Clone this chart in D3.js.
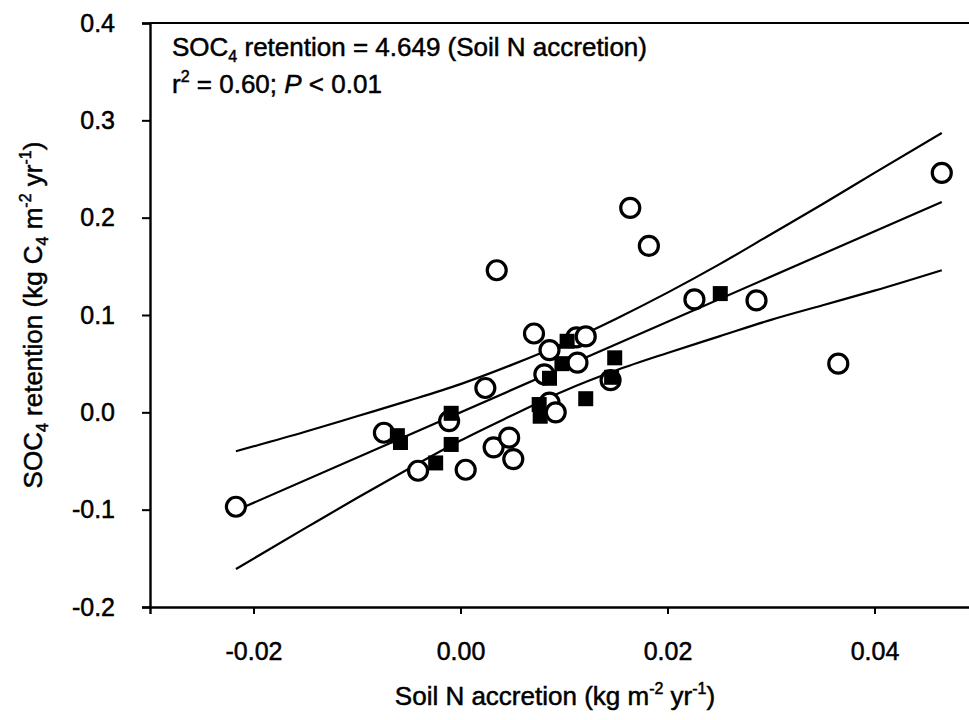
<!DOCTYPE html>
<html>
<head>
<meta charset="utf-8">
<script src="https://cdn.jsdelivr.net/npm/d3@7"></script>
<style>
  body { margin: 0; background: #fff; }
  svg { display: block; font-family: "Liberation Sans", Arial, sans-serif; }
  svg text { fill: #000; stroke: #000; stroke-width: 0.5px; }
</style>
</head>
<body>
<svg id="chart" width="969" height="720"></svg>
<script>
// open circles
const circleX = [-0.0217, -0.0074, -0.0011, -0.0041, 0.0005, 0.0024, 0.0032, 0.0047, 0.0051,
                 0.0035, 0.0071, 0.0086, 0.0081, 0.0086, 0.0092, 0.0113, 0.0112, 0.0121,
                 0.0145, 0.0164, 0.0182, 0.0226, 0.0286, 0.0365, 0.0465];
const circleY = [-0.097, -0.021, -0.009, -0.060, -0.059, 0.025, -0.036, -0.026, -0.048,
                 0.146, 0.081, 0.064, 0.039, 0.010, 0.000, 0.051, 0.077, 0.078,
                 0.033, 0.210, 0.171, 0.116, 0.115, 0.050, 0.246];
// filled squares
const squareX = [-0.0061, -0.0058, -0.0009, -0.0009, -0.0024, 0.0076, 0.0077, 0.0086, 0.0098,
                 0.0103, 0.0121, 0.0149, 0.0146, 0.0251];
const squareY = [-0.024, -0.031, -0.001, -0.033, -0.052, 0.008, -0.004, 0.035, 0.050,
                 0.073, 0.014, 0.056, 0.036, 0.122];

// regression line and 95% band
const slope = 4.649;
const fitRange = [-0.0217, 0.0465];
const bandX =     [-0.0217, -0.015, -0.010, -0.005, 0.000, 0.005, 0.010, 0.015, 0.020, 0.025, 0.030, 0.035, 0.040, 0.0465];
const bandUpper = [-0.040, -0.020, -0.004, 0.012, 0.029, 0.049, 0.071, 0.096, 0.123, 0.152, 0.183, 0.214, 0.246, 0.287];
const bandLower = [-0.161, -0.119, -0.088, -0.058, -0.029, -0.003, 0.022, 0.043, 0.061, 0.078, 0.095, 0.110, 0.125, 0.146];

const xTicks = [-0.02, 0, 0.02, 0.04];
const xTickLabels = ["-0.02", "0.00", "0.02", "0.04"];
const yTicks = [0.4, 0.3, 0.2, 0.1, 0, -0.1, -0.2];
const yTickLabels = ["0.4", "0.3", "0.2", "0.1", "0.0", "-0.1", "-0.2"];

const svg = d3.select("#chart");

const x = d3.scaleLinear().domain([-0.03, 0.05]).range([150, 978]);
const y = d3.scaleLinear().domain([-0.2, 0.4]).range([607, 23]);

// frame
svg.append("line")
    .attr("x1", 150).attr("x2", 978).attr("y1", 23).attr("y2", 23)
    .attr("stroke", "#000").attr("stroke-width", 1.8);

// axes
const xAxis = d3.axisBottom(x)
    .tickValues(xTicks)
    .tickSize(7)
    .tickFormat((d, i) => xTickLabels[i]);
const yAxis = d3.axisLeft(y)
    .tickValues(yTicks)
    .tickSize(8)
    .tickFormat((d, i) => yTickLabels[i]);

const gx = svg.append("g")
    .attr("transform", "translate(0,607)")
    .call(xAxis);
const gy = svg.append("g")
    .attr("transform", "translate(150,0)")
    .call(yAxis);

[gx, gy].forEach(g => {
    g.select(".domain").attr("stroke-width", 2.4);
    g.selectAll(".tick line").attr("stroke-width", 2);
    g.selectAll(".tick text")
        .attr("font-family", "Liberation Sans, Arial, sans-serif")
        .attr("font-size", 25);
});
gx.selectAll(".tick text").attr("y", 44).attr("dy", "0.35em");
gy.selectAll(".tick text").attr("x", -35);

// band and fit
const line = d3.line()
    .x(d => x(d[0]))
    .y(d => y(d[1]))
    .curve(d3.curveMonotoneX);

svg.append("path")
    .datum(bandX.map((v, i) => [v, bandUpper[i]]))
    .attr("d", line)
    .attr("fill", "none").attr("stroke", "#000").attr("stroke-width", 2.2);
svg.append("path")
    .datum(bandX.map((v, i) => [v, bandLower[i]]))
    .attr("d", line)
    .attr("fill", "none").attr("stroke", "#000").attr("stroke-width", 2.2);
svg.append("path")
    .datum(fitRange.map(v => [v, slope * v]))
    .attr("d", line)
    .attr("fill", "none").attr("stroke", "#000").attr("stroke-width", 2.2);

// points
svg.append("g").selectAll("circle")
    .data(circleX.map((v, i) => [v, circleY[i]]))
    .enter()
    .append("circle")
    .attr("cx", d => x(d[0]))
    .attr("cy", d => y(d[1]))
    .attr("r", 9.5)
    .attr("fill", "#fff")
    .attr("stroke", "#000")
    .attr("stroke-width", 3.2);

const sq = 15;
svg.append("g").selectAll("rect")
    .data(squareX.map((v, i) => [v, squareY[i]]))
    .enter()
    .append("rect")
    .attr("x", d => x(d[0]) - sq / 2)
    .attr("y", d => y(d[1]) - sq / 2)
    .attr("width", sq)
    .attr("height", sq)
    .attr("fill", "#000");

// equation text
const eq = svg.append("text")
    .attr("x", 172).attr("y", 56)
    .attr("font-size", 26);
eq.append("tspan").text("SOC");
eq.append("tspan").text("4").attr("font-size", 16).attr("dy", 6);
eq.append("tspan").text(" retention = 4.649 (Soil N accretion)").attr("dy", -6);

const r2 = svg.append("text")
    .attr("x", 172).attr("y", 93)
    .attr("font-size", 26);
r2.append("tspan").text("r");
r2.append("tspan").text("2").attr("font-size", 16).attr("dy", -11);
r2.append("tspan").text(" = 0.60; ").attr("dy", 11);
r2.append("tspan").text("P").attr("font-style", "italic");
r2.append("tspan").text(" < 0.01");

// axis titles
const xt = svg.append("text")
    .attr("x", 555).attr("y", 705)
    .attr("text-anchor", "middle")
    .attr("font-size", 26);
xt.append("tspan").text("Soil N accretion (kg m");
xt.append("tspan").text("-2").attr("font-size", 16).attr("dy", -11);
xt.append("tspan").text(" yr").attr("dy", 11);
xt.append("tspan").text("-1").attr("font-size", 16).attr("dy", -11);
xt.append("tspan").text(")").attr("dy", 11);

const yt = svg.append("text")
    .attr("transform", "translate(42,315) rotate(-90)")
    .attr("text-anchor", "middle")
    .attr("font-size", 26);
yt.append("tspan").text("SOC");
yt.append("tspan").text("4").attr("font-size", 16).attr("dy", 6);
yt.append("tspan").text(" retention (kg C").attr("dy", -6);
yt.append("tspan").text("4").attr("font-size", 16).attr("dy", 6);
yt.append("tspan").text(" m").attr("dy", -6);
yt.append("tspan").text("-2").attr("font-size", 16).attr("dy", -11);
yt.append("tspan").text(" yr").attr("dy", 11);
yt.append("tspan").text("-1").attr("font-size", 16).attr("dy", -11);
yt.append("tspan").text(")").attr("dy", 11);
</script>
</body>
</html>
